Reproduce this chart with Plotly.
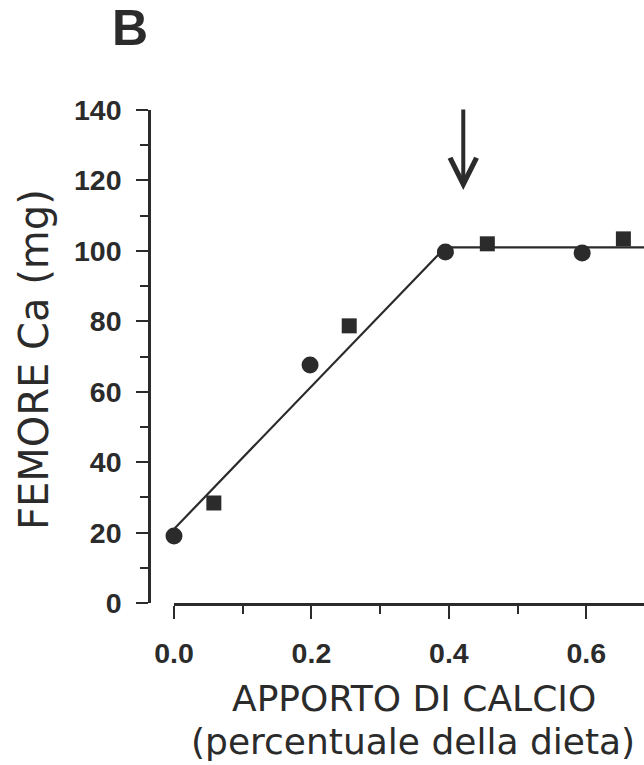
import plotly.graph_objects as go

# ---- data ----
circle_x = [0.0, 0.198, 0.395, 0.594]
circle_y = [19.0, 67.6, 99.7, 99.4]
square_x = [0.058, 0.255, 0.456, 0.654]
square_y = [28.4, 78.7, 102.0, 103.4]
fit_x = [0.0, 0.395, 0.70]
fit_y = [21.0, 101.0, 101.0]
arrow_x = 0.421
x_ticks = [0.0, 0.2, 0.4, 0.6]
x_ticklabels = ["0.0", "0.2", "0.4", "0.6"]
y_ticks = [0, 20, 40, 60, 80, 100, 120, 140]

INK = "#2b2b2b"
W, H = 644, 765
L, R, T, B = 100, 0, 110, 162
PW = W - L - R
PH = H - T - B


def px_x(p):
    return (p - L) / PW


def px_y(p):
    return (H - B - p) / PH


fig = go.Figure()
fig.add_trace(go.Scatter(
    x=fit_x, y=fit_y, mode="lines",
    line=dict(color=INK, width=2.2), cliponaxis=True, showlegend=False))
fig.add_trace(go.Scatter(
    x=circle_x, y=circle_y, mode="markers",
    marker=dict(symbol="circle", size=17, color=INK, line=dict(width=0)),
    cliponaxis=False, showlegend=False))
fig.add_trace(go.Scatter(
    x=square_x, y=square_y, mode="markers",
    marker=dict(symbol="square", size=15, color=INK, line=dict(width=0)),
    cliponaxis=False, showlegend=False))

tickfont = dict(family="Liberation Sans, Arial, sans-serif", size=28.5,
                color=INK, weight="bold")
labfont = dict(family="DejaVu Sans, sans-serif", size=36, color=INK)

fig.update_layout(
    width=W, height=H,
    margin=dict(l=L, r=R, t=T, b=B, pad=0),
    paper_bgcolor="white", plot_bgcolor="white",
    xaxis=dict(
        domain=[px_x(174), 1], range=[0, 0.684],
        showgrid=False, zeroline=False,
        showline=True, linecolor=INK, linewidth=2.6,
        tickmode="array", tickvals=x_ticks, ticktext=x_ticklabels,
        ticks="outside", ticklen=13, tickwidth=2.4, tickcolor=INK,
        tickfont=tickfont, ticklabelstandoff=10,
        minor=dict(dtick=0.1, tick0=0, ticks="outside", ticklen=8,
                   tickwidth=2.2, tickcolor=INK, showgrid=False),
    ),
    yaxis=dict(
        anchor="free", position=px_x(149), range=[0, 140],
        showgrid=False, zeroline=False,
        showline=True, linecolor=INK, linewidth=2.6,
        tickmode="array", tickvals=y_ticks,
        ticks="outside", ticklen=12, tickwidth=2.4, tickcolor=INK,
        tickfont=tickfont, ticklabelstandoff=9,
        minor=dict(dtick=10, tick0=0, ticks="outside", ticklen=8,
                   tickwidth=2.2, tickcolor=INK, showgrid=False),
    ),
)

fig.add_annotation(
    x=arrow_x, y=117.3, ax=arrow_x, ay=140.6, xref="x", yref="y",
    axref="x", ayref="y", text="", showarrow=True,
    arrowhead=5, arrowsize=1.3, arrowwidth=4, arrowcolor=INK, standoff=0)

fig.add_annotation(
    text="B", xref="paper", yref="paper", x=px_x(130), y=px_y(28),
    xanchor="center", yanchor="middle", showarrow=False,
    font=dict(family="Liberation Sans, Arial, sans-serif", size=50,
              color=INK, weight="bold"))
fig.add_annotation(
    text="APPORTO DI CALCIO", xref="paper", yref="paper",
    x=px_x(414), y=px_y(698), xanchor="center", yanchor="middle",
    showarrow=False, font=labfont)
fig.add_annotation(
    text="(percentuale della dieta)", xref="paper", yref="paper",
    x=px_x(413), y=px_y(741), xanchor="center", yanchor="middle",
    showarrow=False, font=labfont)
fig.add_annotation(
    text="FEMORE Ca (mg)", xref="paper", yref="paper",
    x=px_x(34), y=px_y(360), xanchor="center", yanchor="middle",
    textangle=-90, showarrow=False,
    font=dict(family="DejaVu Sans, sans-serif", size=40, color=INK))

fig.write_html("out.html")
